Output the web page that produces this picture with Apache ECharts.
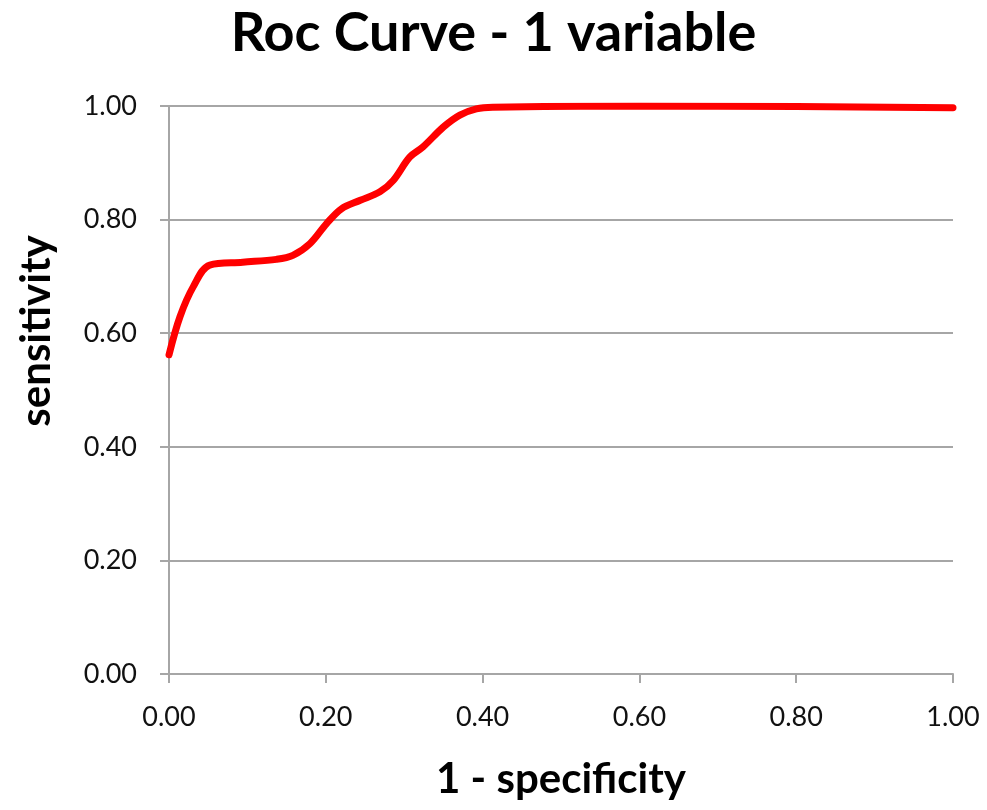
<!DOCTYPE html>
<html>
<head>
<meta charset="utf-8">
<title>Roc Curve - 1 variable</title>
<script src="https://cdn.jsdelivr.net/npm/echarts@6/dist/echarts.min.js"></script>
<style>
  html, body { margin: 0; padding: 0; background: #fff; }
  #chart { width: 987px; height: 810px; }
</style>
</head>
<body>
<div id="chart"></div>
<script>
// 1 - specificity (x) and sensitivity (y)
const fpr = [0.000, 0.014, 0.031, 0.052, 0.094, 0.137, 0.158, 0.180, 0.201, 0.220,
             0.244, 0.269, 0.286, 0.307, 0.324, 0.350, 0.371, 0.392, 0.413, 0.600,
             0.800, 1.000];
const tpr = [0.562, 0.629, 0.682, 0.720, 0.725, 0.730, 0.737, 0.758, 0.793, 0.819,
             0.834, 0.849, 0.869, 0.910, 0.928, 0.963, 0.984, 0.995, 0.998, 1.000,
             0.999, 0.997];
const tickLabels = ['0.00', '0.20', '0.40', '0.60', '0.80', '1.00'];

const chart = echarts.init(document.getElementById('chart'));

const points = fpr.map((x, i) => [x, tpr[i]]);
const gray = '#a6a6a6';
const fmt = v => tickLabels[Math.round(v * 5)] || v.toFixed(2);

const option = {
  backgroundColor: '#fff',
  animation: false,
  title: {
    text: 'Roc Curve - 1 variable',
    left: 'center',
    top: 2,
    textStyle: { fontFamily: 'Lato', fontWeight: 'bold', fontSize: 54, color: '#000' }
  },
  grid: { left: 169, right: 34, top: 106, bottom: 136, containLabel: false },
  xAxis: {
    type: 'value',
    min: 0, max: 1, interval: 0.2,
    name: '1 - specificity',
    nameLocation: 'middle',
    nameGap: 84,
    nameTextStyle: { fontFamily: 'Lato', fontWeight: 'bold', fontSize: 42, color: '#000' },
    axisLine: { show: true, lineStyle: { color: gray, width: 2 } },
    axisTick: { show: true, inside: false, length: 9, lineStyle: { color: gray, width: 2 } },
    axisLabel: { margin: 30, fontFamily: 'Lato', fontSize: 27, color: '#111', formatter: fmt },
    splitLine: { show: false }
  },
  yAxis: {
    type: 'value',
    min: 0, max: 1, interval: 0.2,
    axisLine: { show: true, lineStyle: { color: gray, width: 2 } },
    axisTick: { show: true, inside: false, length: 9, lineStyle: { color: gray, width: 2 } },
    axisLabel: { margin: 32, fontFamily: 'Lato', fontSize: 27, color: '#111', formatter: fmt },
    splitLine: { show: true, lineStyle: { color: gray, width: 2 } }
  },
  graphic: [{
    type: 'text',
    x: 36, y: 331,
    rotation: Math.PI / 2,
    style: {
      text: 'sensitivity',
      fontFamily: 'Lato', fontWeight: 'bold', fontSize: 42, fill: '#000',
      align: 'center', verticalAlign: 'middle'
    }
  }],
  series: [{
    type: 'line',
    data: points,
    smooth: 0.35,
    symbol: 'none',
    lineStyle: { color: '#ff0000', width: 7, cap: 'round' },
    z: 5
  }]
};

chart.setOption(option);
</script>
</body>
</html>
